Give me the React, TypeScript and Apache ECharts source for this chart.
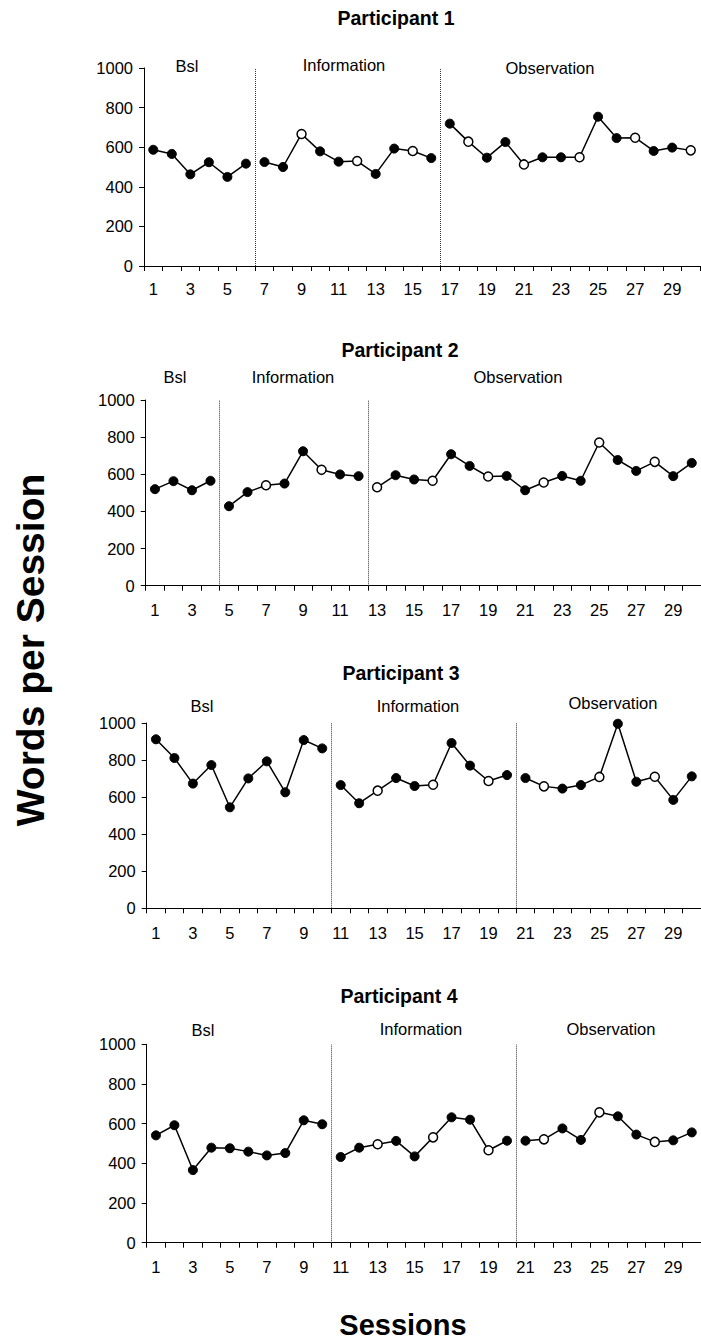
import React, { useEffect, useRef } from "react";
import * as echarts from "echarts";

// ---------- DATA ----------
const sessions = [
  "1", "2", "3", "4", "5", "6", "7", "8", "9", "10",
  "11", "12", "13", "14", "15", "16", "17", "18", "19", "20",
  "21", "22", "23", "24", "25", "26", "27", "28", "29", "30",
];
const yTicks = [0, 200, 400, 600, 800, 1000];
const phaseNames = ["Bsl", "Information", "Observation"];

const p1Values = [587, 566, 463, 524, 450, 517, 525, 500, 667, 579, 527, 530, 465, 593, 581, 545, 719, 628, 547, 626, 513, 549, 549, 549, 754, 646, 648, 581, 598, 584];
const p1Open = [9, 12, 15, 18, 21, 24, 27, 30];
const p1PhaseStarts = [1, 7, 17];

const p2Values = [520, 563, 514, 565, 428, 504, 541, 550, 724, 624, 599, 590, 530, 595, 572, 565, 708, 645, 588, 591, 514, 556, 591, 565, 771, 677, 618, 667, 590, 661];
const p2Open = [7, 10, 13, 16, 19, 22, 25, 28];
const p2PhaseStarts = [1, 5, 13];

const p3Values = [912, 811, 673, 773, 545, 701, 793, 626, 908, 863, 665, 567, 635, 703, 660, 667, 892, 770, 687, 719, 703, 658, 646, 665, 709, 996, 683, 710, 585, 712];
const p3Open = [13, 16, 19, 22, 25, 28];
const p3PhaseStarts = [1, 11, 21];

const p4Values = [541, 592, 366, 479, 476, 459, 440, 452, 617, 597, 432, 479, 496, 513, 435, 531, 632, 620, 466, 514, 514, 521, 576, 518, 657, 637, 545, 508, 516, 556];
const p4Open = [13, 16, 19, 22, 25, 28];
const p4PhaseStarts = [1, 11, 21];

const participants = [
  { title: "Participant 1", values: p1Values, open: p1Open, starts: p1PhaseStarts },
  { title: "Participant 2", values: p2Values, open: p2Open, starts: p2PhaseStarts },
  { title: "Participant 3", values: p3Values, open: p3Open, starts: p3PhaseStarts },
  { title: "Participant 4", values: p4Values, open: p4Open, starts: p4PhaseStarts },
];

// ---------- LAYOUT ----------
const LAYOUT = [
  { left: 144, top: 68, width: 556, height: 198, labelMargin: 14, titleX: 396, titleY: 18, phaseLabels: [[187, 66], [344, 65], [550, 68]] },
  { left: 145.7, top: 400, width: 561, height: 185.7, labelMargin: 16, titleX: 400, titleY: 350, phaseLabels: [[175, 377], [293, 377], [518, 377]] },
  { left: 146.7, top: 723, width: 561.6, height: 185.3, labelMargin: 16, titleX: 401, titleY: 673, phaseLabels: [[202, 706], [418, 706], [613, 703]] },
  { left: 146.7, top: 1044.3, width: 558, height: 198.4, labelMargin: 16, titleX: 399, titleY: 996, phaseLabels: [[203, 1030], [421, 1029], [611, 1029]] },
];

const FONT = "'Liberation Sans', Arial, Helvetica, sans-serif";

function buildOption() {
  const grid: any[] = [];
  const xAxis: any[] = [];
  const yAxis: any[] = [];
  const series: any[] = [];
  const graphic: any[] = [];

  participants.forEach((p, gi) => {
    const L = LAYOUT[gi];
    grid.push({ left: L.left, top: L.top, width: L.width, height: L.height, containLabel: false });
    // category axis (visible)
    xAxis.push({
      type: "category",
      gridIndex: gi,
      data: sessions,
      boundaryGap: true,
      axisLine: { show: true, lineStyle: { color: "#000", width: 1 } },
      axisTick: { show: true, interval: 0, length: 5, lineStyle: { color: "#000", width: 1 } },
      axisLabel: { interval: 1, margin: L.labelMargin, color: "#000", fontSize: 16.5, fontFamily: FONT },
      splitLine: { show: false },
    });
    // hidden value axis for phase lines
    xAxis.push({
      type: "value",
      gridIndex: gi,
      min: 0,
      max: 30,
      show: false,
      splitLine: { show: false },
    });
    yAxis.push({
      type: "value",
      gridIndex: gi,
      min: yTicks[0],
      max: yTicks[yTicks.length - 1],
      interval: 200,
      axisLine: { show: true, lineStyle: { color: "#000", width: 1 } },
      axisTick: { show: true, length: 5, lineStyle: { color: "#000", width: 1 } },
      axisLabel: { margin: 11, color: "#000", fontSize: 16.5, fontFamily: FONT, formatter: (v: number) => String(v) },
      splitLine: { show: false },
    });

    const catIdx = gi * 2;
    const valIdx = gi * 2 + 1;
    const starts = p.starts;
    starts.forEach((start, k) => {
      const end = k + 1 < starts.length ? starts[k + 1] - 1 : sessions.length;
      const data = p.values.map((v, i) => {
        const s = i + 1;
        if (s < start || s > end) return "-";
        if (p.open.includes(s)) {
          return { value: v, itemStyle: { color: "#fff", borderColor: "#000", borderWidth: 1.5 } };
        }
        return v;
      });
      series.push({
        type: "line",
        xAxisIndex: catIdx,
        yAxisIndex: gi,
        data,
        connectNulls: false,
        symbol: "circle",
        symbolSize: 9,
        showAllSymbol: true,
        lineStyle: { color: "#000", width: 1.5 },
        itemStyle: { color: "#000", borderColor: "#000", borderWidth: 1 },
        emphasis: { disabled: true },
        silent: true,
        z: 3,
      });
    });

    // phase change lines
    series.push({
      type: "line",
      xAxisIndex: valIdx,
      yAxisIndex: gi,
      data: [],
      silent: true,
      markLine: {
        silent: true,
        symbol: ["none", "none"],
        label: { show: false },
        lineStyle: { type: "dotted", color: "#333", width: 1 },
        data: starts.slice(1).map((s) => ({ xAxis: s - 1 })),
      },
      z: 1,
    });

    graphic.push({
      type: "text",
      x: L.titleX,
      y: L.titleY,
      style: { text: p.title, font: `bold 19.5px ${FONT}`, fill: "#000", align: "center", verticalAlign: "middle" },
    });
    phaseNames.forEach((name, k) => {
      graphic.push({
        type: "text",
        x: L.phaseLabels[k][0],
        y: L.phaseLabels[k][1],
        style: { text: name, font: `16.5px ${FONT}`, fill: "#000", align: "center", verticalAlign: "middle" },
      });
    });
  });

  graphic.push({
    type: "text",
    x: 403,
    y: 1325,
    style: { text: "Sessions", font: `bold 29px ${FONT}`, fill: "#000", align: "center", verticalAlign: "middle" },
  });
  graphic.push({
    type: "text",
    x: 30,
    y: 650,
    rotation: Math.PI / 2,
    style: { text: "Words per Session", font: `bold 39px ${FONT}`, fill: "#000", align: "center", verticalAlign: "middle" },
  });

  return {
    animation: false,
    backgroundColor: "#fff",
    textStyle: { fontFamily: FONT },
    grid,
    xAxis,
    yAxis,
    series,
    graphic,
  };
}

export default function App() {
  const ref = useRef<HTMLDivElement>(null);
  useEffect(() => {
    if (!ref.current) return;
    const chart = echarts.init(ref.current, undefined, { renderer: "svg" });
    chart.setOption(buildOption() as any);
    return () => chart.dispose();
  }, []);
  return (
    <div
      ref={ref}
      style={{ position: "absolute", left: 0, top: 0, width: 701, height: 1340, background: "#fff" }}
    />
  );
}
